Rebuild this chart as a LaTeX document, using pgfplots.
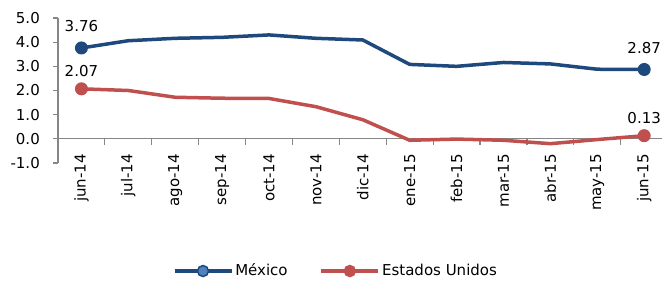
\documentclass[border=0pt]{standalone}
\usepackage{pgfplots}
\pgfplotsset{compat=1.18}
\usepackage{pgfplotstable}
\usepackage{fontspec}
\setmainfont{DejaVu Sans}
\definecolor{mxblue}{RGB}{31,73,125}
\definecolor{mxlight}{RGB}{79,129,189}
\definecolor{usred}{RGB}{192,80,77}
\definecolor{axgray}{RGB}{134,134,134}

\pgfplotstableread{
x mx us lmx lus
0 3.76 2.07 3.76 2.07
1 4.06 2.00 {} {}
2 4.16 1.72 {} {}
3 4.20 1.68 {} {}
4 4.30 1.67 {} {}
5 4.16 1.33 {} {}
6 4.09 0.79 {} {}
7 3.08 -0.06 {} {}
8 3.00 -0.01 {} {}
9 3.16 -0.06 {} {}
10 3.10 -0.20 {} {}
11 2.88 -0.03 {} {}
12 2.87 0.13 2.87 0.13
}\datatable

\begin{document}
\fontsize{15bp}{18bp}\selectfont
\begin{tikzpicture}
\useasboundingbox (-58bp,-121bp) rectangle (604bp,163bp);
\begin{axis}[
  at={(0,0)}, anchor=south west,
  scale only axis, width=604bp, height=145bp,
  xmin=-0.5, xmax=12.38, ymin=-1, ymax=5,
  axis y line*=left, axis x line*=middle,
  axis line style={draw=axgray, line width=1.2bp},
  /pgf/number format/assume math mode=true,
  ytick={-1,0,...,5},
  yticklabel style={/pgf/number format/fixed, /pgf/number format/fixed zerofill, /pgf/number format/precision=1, xshift=-8bp},
  tick align=outside,
  major tick length=5bp,
  minor tick length=6bp,
  tick style={axgray, line width=1.2bp},
  xtick={0,...,12},
  xticklabels={jun-14,jul-14,ago-14,sep-14,oct-14,nov-14,dic-14,ene-15,feb-15,mar-15,abr-15,may-15,jun-15},
  major x tick style={draw=none},
  minor xtick={0.5,1.5,...,11.5},
  xticklabel style={rotate=90, anchor=east},
  xticklabel shift=5bp,
  legend style={at={(0.46,-0.745)}, anchor=center, draw=none, fill=none,
    legend columns=-1, /tikz/every even column/.append style={column sep=30bp}},
  clip=false,
]
\addplot[mxblue, line width=3.5bp, mark=*, mark indices={1,13}, mark size=6bp,
  mark options={line width=1bp},
  nodes near coords, point meta=explicit symbolic,
  every node near coord/.style={anchor=base, yshift=16bp, text=black, inner sep=0pt},
  legend image code/.code={\draw[mxblue, line width=3.5bp] (0bp,0bp) -- (57bp,0bp);
    \fill[mxlight, draw=mxblue, line width=1.5bp] (28.5bp,0bp) circle (5.5bp);}
  ] table[x=x, y=mx, meta=lmx] {\datatable};
\addlegendentry{México}
\addplot[usred, line width=3.5bp, mark=*, mark indices={1,13}, mark size=6bp,
  mark options={line width=1bp},
  nodes near coords, point meta=explicit symbolic,
  every node near coord/.style={anchor=base, yshift=12bp, text=black, inner sep=0pt},
  legend image code/.code={\draw[usred, line width=3.5bp] (0bp,0bp) -- (57bp,0bp);
    \fill[usred, draw=usred, line width=1.5bp] (28.5bp,0bp) circle (5.5bp);}
  ] table[x=x, y=us, meta=lus] {\datatable};
\addlegendentry{Estados Unidos}
\end{axis}
\end{tikzpicture}
\end{document}
